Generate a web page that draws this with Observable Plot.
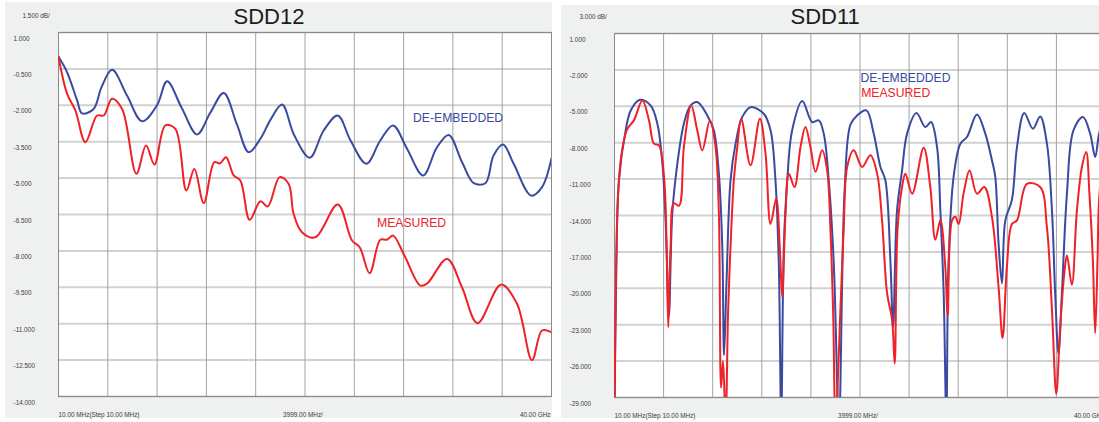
<!DOCTYPE html>
<html><head><meta charset="utf-8">
<script src="https://cdn.jsdelivr.net/npm/d3@7"></script>
<script src="https://cdn.jsdelivr.net/npm/@observablehq/plot@0.6"></script>
<style>
html,body{margin:0;padding:0;background:#fff;overflow:hidden;width:1099px;height:422px;}
#left{position:absolute;left:5px;top:2px;width:547px;height:416px;}
#right{position:absolute;left:561px;top:5px;width:546px;height:413px;}
#left svg,#right svg{max-width:none !important;}
</style></head><body>
<div id="left"></div><div id="right"></div>
<script>
// ---------- shared ----------
const xGridGHz = [0.01, 4.009, 8.008, 12.007, 16.006, 20.005, 24.004, 28.003, 32.002, 36.001, 40.0];
const xLabels = ["10.00 MHz(Step 10.00 MHz)", "3999.00 MHz/", "40.00 GHz"];
const seriesNames = ["DE-EMBEDDED", "MEASURED"];
const blueColor = "#3a4aa0";
const redColor = "#ee2228";

// ---------- SDD12 ----------
const sdd12Title = "SDD12";
const sdd12Scale = "1.500 dB/";
const sdd12Ticks = [1, -0.5, -2, -3.5, -5, -6.5, -8, -9.5, -11, -12.5, -14];
const sdd12TickLabels = ["1.000", "-0.500", "-2.000", "-3.500", "-5.000", "-6.500", "-8.000", "-9.500", "-11.000", "-12.500", "-14.000"];
const sdd12DeEmbedded = [
  [0.01,0.0],[0.71,-0.64],[1.52,-1.80],[1.92,-2.33],[2.86,-2.15],[3.5,-1.25],[4.36,-0.54],[5.57,-1.6],
  [6.79,-2.66],[8.0,-2.0],[8.82,-1.01],[10.0,-2.1],[11.25,-3.20],[12.33,-2.3],[13.41,-1.49],[14.49,-2.8],
  [15.44,-3.93],[16.39,-3.38],[17.2,-2.6],[18.15,-1.97],[19.1,-3.2],[20.39,-4.16],[21.52,-3.04],[22.66,-2.42],
  [23.7,-3.45],[24.98,-4.41],[26.11,-3.45],[27.15,-2.83],[28.28,-3.79],[29.59,-4.89],[30.71,-3.73],[31.66,-3.22],
  [32.74,-4.34],[33.69,-5.21],[34.64,-5.21],[35.3,-4.07],[36.07,-3.62],[36.93,-4.41],[38.35,-5.72],[39.23,-5.37],[39.99,-4.2]
];
const sdd12Measured = [
  [0.01,0.0],[0.71,-1.53],[1.38,-2.21],[2.19,-3.52],[3.14,-2.42],[3.68,-2.42],[4.35,-1.73],[5.17,-2.15],
  [6.33,-4.82],[7.11,-3.66],[7.79,-4.44],[8.68,-2.83],[9.49,-2.97],[10.38,-5.51],[11.03,-4.62],[11.79,-6.03],
  [12.65,-4.34],[13.1,-4.4],[13.6,-4.14],[14.22,-4.89],[14.76,-5.10],[15.52,-6.72],[16.39,-5.95],[16.98,-6.17],
  [17.95,-4.96],[18.68,-5.24],[19.08,-6.47],[19.76,-7.23],[20.84,-7.44],[22.66,-6.09],[23.82,-7.57],[24.44,-7.85],
  [25.25,-8.92],[26.11,-7.54],[26.65,-7.54],[27.15,-7.37],[28.07,-8.19],[29.36,-9.43],[29.9,-9.35],[31.53,-8.33],
  [32.74,-9.50],[34.0,-10.98],[35.9,-9.39],[37.2,-10.18],[38.42,-12.5],[39.23,-11.28],[39.99,-11.35]
];
const sdd12LabelPos = [[28.77,-2.53],[25.85,-6.85]];

// ---------- SDD11 ----------
const sdd11Title = "SDD11";
const sdd11Scale = "3.000 dB/";
const sdd11Ticks = [1, -2, -5, -8, -11, -14, -17, -20, -23, -26, -29];
const sdd11TickLabels = ["1.000", "-2.000", "-5.000", "-8.000", "-11.000", "-14.000", "-17.000", "-20.000", "-23.000", "-26.000", "-29.000"];
const sdd11DeEmbedded = [
  [0.01,-31],[0.15,-19],[0.37,-11.1],[0.92,-6.98],[1.33,-5.34],[2.08,-4.46],[2.95,-4.93],[3.50,-6.43],[3.91,-9.72],
  [4.17,-14.4],[4.44,-22.3],[4.72,-13.8],[5.13,-9.72],[5.66,-6.43],[6.21,-4.93],[6.75,-4.65],[7.57,-5.75],[8.10,-6.98],
  [8.51,-10.55],[8.79,-16.6],[8.93,-25.5],[9.14,-19.3],[9.46,-11.1],[9.87,-8.08],[10.41,-5.89],[11.09,-5.07],[12.17,-5.61],
  [12.72,-6.98],[13.12,-11.1],[13.39,-17.95],[13.59,-31],[13.80,-16.6],[14.08,-11.1],[14.48,-6.98],[15.30,-4.57],[16.11,-6.3],
  [16.65,-6.16],[17.05,-7.25],[17.46,-11.1],[17.87,-17.95],[18.29,-31],[18.75,-12],[19.23,-6.5],[19.77,-5.75],[20.53,-5.34],
  [21.12,-7.25],[21.67,-10.0],[22.07,-11.1],[22.48,-17.7],[22.70,-23.2],[23.02,-13.6],[23.43,-10.3],[23.84,-7.25],[24.60,-5.56],
  [25.33,-6.71],[25.79,-6.3],[26.28,-8.36],[26.55,-13.6],[26.82,-20.4],[27.04,-31],[27.22,-17.7],[27.63,-10.8],[28.18,-8.08],
  [28.72,-7.53],[29.53,-5.67],[30.21,-7.25],[30.75,-9.45],[31.02,-10.8],[31.29,-16.3],[31.57,-19.6],[31.84,-14.4],[32.38,-12.7],
  [32.79,-8.36],[33.38,-5.56],[34.09,-6.85],[34.68,-5.84],[35.23,-8.08],[35.64,-13.6],[35.90,-20.4],[36.17,-25.4],[36.45,-20.4],
  [36.86,-12.2],[37.39,-6.98],[38.16,-5.89],[38.75,-7.25],[39.16,-9.18],[39.48,-7.25],[40.0,-5.5]
];
const sdd11Measured = [
  [0.01,-31],[0.24,-13.8],[0.46,-10.0],[0.78,-7.8],[1.06,-6.85],[1.59,-6.16],[2.28,-4.52],[2.82,-6.16],[3.22,-8.08],
  [3.63,-8.22],[4.04,-10.8],[4.26,-16.6],[4.39,-23.2],[4.58,-16.6],[4.85,-13.0],[5.26,-13.2],[5.66,-8.36],[6.26,-4.93],
  [6.75,-6.98],[7.16,-8.63],[7.78,-6.16],[8.24,-8.36],[8.51,-13.8],[8.69,-28.2],[8.85,-26.0],[9.06,-31],[9.26,-22],
  [9.46,-16.6],[9.73,-11.1],[10.01,-8.36],[10.33,-6.02],[11.09,-9.86],[11.85,-6.02],[12.31,-8.9],[12.72,-14.7],[13.18,-12.6],
  [13.47,-16.6],[13.67,-20.7],[13.94,-13.8],[14.21,-10.55],[14.67,-11.65],[15.16,-8.36],[15.56,-6.71],[15.97,-8.36],[16.38,-10.4],
  [16.92,-8.63],[17.33,-10.3],[17.60,-15.2],[17.82,-22.1],[18.01,-31],[18.45,-20.7],[18.68,-15.0],[18.96,-10.0],[19.49,-8.63],
  [20.18,-10.0],[20.85,-9.04],[21.40,-10.55],[21.80,-14.4],[22.21,-20.4],[22.62,-22.6],[22.83,-26.2],[23.07,-15],[23.43,-11.65],
  [23.70,-10.55],[24.25,-12.2],[25.19,-8.41],[25.73,-11.65],[26.14,-16.0],[26.55,-14.4],[26.95,-18.2],[27.14,-22.3],[27.50,-14.4],
  [27.77,-14.1],[28.04,-14.7],[28.44,-12.2],[28.93,-10.3],[29.53,-12.2],[30.13,-11.65],[30.75,-14.1],[31.29,-19.9],[31.62,-24.1],
  [31.97,-18.2],[32.38,-14.7],[32.79,-14.4],[33.60,-11.4],[34.68,-11.65],[35.23,-15.0],[35.64,-21.8],[35.99,-28.7],[36.31,-23.2],
  [36.64,-18.8],[36.86,-17.3],[37.26,-19.7],[37.67,-13.6],[38.08,-10.0],[38.43,-8.77],[38.69,-12.2],[38.97,-17.7],[39.16,-23.7],
  [39.35,-17.7],[39.48,-12.7],[40.0,-7]
];
const sdd11LabelPos = [[20.04,-2.70],[20.1,-3.92]];

function chart(opts) {
  const {title, scaleLabel, ticks, tickLabels, de, meas, labelPos, width, height, margins, titleDx, titleDy, scaleDx, scaleDy} = opts;
  const tickRows = ticks.map((t, i) => ({y: t, label: tickLabels[i]}));
  const toRows = arr => arr.map(([f, v]) => ({f, v}));
  const labelRows = labelPos.map(([f, v], i) => ({f, v, text: seriesNames[i], color: i === 0 ? blueColor : redColor}));
  const font = "'Liberation Sans', Arial, sans-serif";
  const svg = Plot.plot({
    width, height,
    marginTop: margins[0], marginRight: margins[1], marginBottom: margins[2], marginLeft: margins[3],
    style: {background: "#eff0f0", fontFamily: font, overflow: "visible", maxWidth: "none"},
    x: {domain: [0.01, 40], axis: null},
    y: {domain: [ticks[ticks.length - 1], ticks[0]], axis: null},
    marks: [
      Plot.frame({fill: "white", stroke: null}),
      Plot.ruleY(ticks, {stroke: "#d2d2d2", strokeWidth: 2}),
      Plot.ruleX(xGridGHz, {stroke: "#a3a3a3", strokeWidth: 1}),
      Plot.frame({stroke: "#8a8a8a", strokeWidth: 1}),
      Plot.line(toRows(de), {x: "f", y: "v", stroke: blueColor, strokeWidth: 2, curve: "catmull-rom", clip: true}),
      Plot.line(toRows(meas), {x: "f", y: "v", stroke: redColor, strokeWidth: 2, curve: "catmull-rom", clip: true}),
      Plot.text(labelRows, {x: "f", y: "v", text: "text", fill: "color", fontSize: 12.2, textAnchor: "start", lineAnchor: "middle"}),
      Plot.text(tickRows, {y: "y", text: "label", frameAnchor: "left", dx: -45, dy: 6, textAnchor: "start", fontSize: 6.4, fill: "#404040"}),
      Plot.text([scaleLabel], {frameAnchor: "top-left", dx: scaleDx, dy: scaleDy, textAnchor: "start", lineAnchor: "middle", fontSize: 6.4, fill: "#404040"}),
      Plot.text([title], {frameAnchor: "top-left", dx: titleDx, dy: titleDy, textAnchor: "start", lineAnchor: "bottom", fontSize: 22, fill: "#1c1c1c"}),
      Plot.text([xLabels[0]], {frameAnchor: "bottom-left", dx: 0, dy: 18, textAnchor: "start", lineAnchor: "middle", fontSize: 6.4, fill: "#404040"}),
      Plot.text([xLabels[1]], {frameAnchor: "bottom", dx: -2, dy: 18, textAnchor: "middle", lineAnchor: "middle", fontSize: 6.4, fill: "#404040"}),
      Plot.text([xLabels[2]], {frameAnchor: "bottom-right", dx: -1, dy: 18, textAnchor: "end", lineAnchor: "middle", fontSize: 6.4, fill: "#404040"})
    ]
  });
  svg.style.maxWidth = "none";
  svg.style.width = width + "px";
  svg.style.height = height + "px";
  return svg;
}

document.getElementById("left").appendChild(chart({
  title: sdd12Title, scaleLabel: sdd12Scale, ticks: sdd12Ticks, tickLabels: sdd12TickLabels,
  de: sdd12DeEmbedded, meas: sdd12Measured, labelPos: sdd12LabelPos,
  width: 547, height: 416, margins: [30, 1, 22, 53],
  titleDx: 175, titleDy: -9, scaleDx: -36, scaleDy: -17
}));
document.getElementById("right").appendChild(chart({
  title: sdd11Title, scaleLabel: sdd11Scale, ticks: sdd11Ticks, tickLabels: sdd11TickLabels,
  de: sdd11DeEmbedded, meas: sdd11Measured, labelPos: sdd11LabelPos,
  width: 546, height: 413, margins: [28, 2, 21, 53],
  titleDx: 176, titleDy: -10, scaleDx: -35, scaleDy: -17
}));
</script></body></html>
